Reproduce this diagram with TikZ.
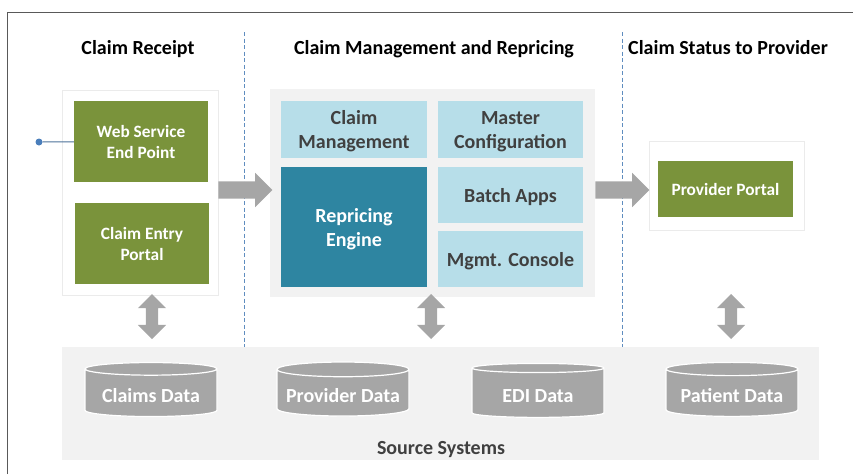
\documentclass[tikz,border=0pt]{standalone}
\usepackage{fontspec}
\setmainfont{Carlito}
\usetikzlibrary{shapes}
\usetikzlibrary{arrows}
\definecolor{c_green}{HTML}{7A933B}
\definecolor{c_teal}{HTML}{2E85A1}
\definecolor{c_light}{HTML}{B7DEE9}
\definecolor{c_panel}{HTML}{F2F2F2}
\definecolor{c_arrow}{HTML}{A6A6A6}
\definecolor{c_text}{HTML}{404040}
\definecolor{c_dash}{HTML}{5F8DBF}
\definecolor{c_dot}{HTML}{4A7EBB}
\newcommand{\topgap}{\rule{0pt}{18pt}}
\tikzset{
	basenode/.style = {
		align=center,
		inner sep=0pt,
		text centered,
		font=\bfseries
	},
	node_title/.style = {
		basenode,
		black,
		font=\fontsize{20}{23}\selectfont\bfseries
	},
	node_panel/.style = {
		basenode,
		rectangle,
		draw=black!8,
		fill=white,
		line width=0.8pt
	},
	node_green/.style = {
		basenode,
		rectangle,
		white,
		fill=c_green,
		font=\fontsize{17.3}{21}\selectfont\bfseries,
		minimum width=134pt,
		minimum height=81pt
	},
	node_light/.style = {
		basenode,
		rectangle,
		c_text,
		fill=c_light,
		font=\fontsize{20}{24}\selectfont\bfseries,
		minimum width=146pt,
		minimum height=57pt
	},
	node_arrow/.style = {
		single arrow,
		fill=c_arrow,
		inner sep=8.5pt,
		single arrow head extend=8.5pt,
		minimum height=54pt
	},
	node_updown/.style = {
		double arrow,
		shape border rotate=90,
		fill=c_arrow,
		inner sep=6pt,
		double arrow head extend=8pt,
		minimum height=45pt
	},
	node_data/.style = {
		basenode,
		cylinder,
		shape border rotate=90,
		shape aspect=0.129,
		white,
		draw=white,
		fill=c_arrow,
		line width=1.2pt,
		font=\fontsize{20}{22}\selectfont\bfseries,
		minimum height=54pt,
		minimum width=132pt
	},
	divider/.style = {
		c_dash,
		dash pattern=on 4pt off 2.5pt,
		line width=0.9pt
	},
}
\begin{document}
\begin{tikzpicture}[x=1pt,y=-1pt]
\useasboundingbox (0,0) rectangle (853,474);
% outer frame
\coordinate (frame_a) at (7,474);
\coordinate (frame_b) at (7,12.5);
\coordinate (frame_c) at (853,12.5);
\draw [black!65, line width=1pt] (frame_a) -- (frame_b) -- (frame_c);

% source systems
\node [basenode, fill=c_panel, minimum width=757pt, minimum height=113pt] (source) at (440.5,403.5) {};
\node [basenode, c_text, font=\fontsize{20}{23}\selectfont\bfseries] (source_label) at (441,450) {Source Systems};

% dashed dividers
\coordinate (div_a_top) at (244,32);
\coordinate (div_a_bot) at (244,347);
\coordinate (div_b_top) at (622,32);
\coordinate (div_b_bot) at (622,347);
\draw [divider] (div_a_top) -- (div_a_bot);
\draw [divider] (div_b_top) -- (div_b_bot);

% titles
\node [node_title] (title_receipt) at (138,49) {Claim Receipt};
\node [node_title] (title_mgmt) at (434,49) {Claim Management and Repricing};
\node [node_title] (title_status) at (728,47.5) {Claim Status to Provider};

% panels
\node [node_panel, minimum width=156pt, minimum height=205pt] (panel_receipt) at (140,192.5) {};
\node [node_panel, draw=none, fill=c_panel, minimum width=325pt, minimum height=208pt] (panel_mgmt) at (432.5,193) {};
\node [node_panel, minimum width=155pt, minimum height=89pt] (panel_status) at (726.5,185.5) {};

% receipt boxes
\node [node_green] (web) at (141,141.5) {Web Service\\End Point};
\node [node_green] (entry) at (142,243.5) {Claim Entry\\Portal};
\node [basenode, circle, fill=c_dot, minimum size=7pt] (dot) at (39,142) {};
\draw [c_dash!80!black, line width=1pt] (dot) -- (web);

% management boxes
\node [node_light] (claim) at (354,129.5) {\topgap Claim\\Management};
\node [node_light, minimum width=145pt] (master) at (510.5,129.5) {\topgap Master\\Configuration};
\node [node_light, white, fill=c_teal, minimum height=120pt] (engine) at (354,227) {\topgap Repricing\\Engine};
\node [node_light, minimum width=145pt, minimum height=56pt] (batch) at (510.5,195) {\topgap Batch Apps};
\node [node_light, minimum width=145pt, minimum height=56pt] (console) at (510.5,259) {\topgap Mgmt. Console};

% status box
\node [node_green, minimum width=135pt, minimum height=56pt] (portal) at (725.5,189) {Provider Portal};

% block arrows
\node [node_arrow] (flow_a) at (241,190) {};
\node [node_arrow] (flow_b) at (618,190) {};
\node [node_updown] (sync_a) at (152,316.5) {};
\node [node_updown] (sync_b) at (431,316.5) {};
\node [node_updown] (sync_c) at (731,316.5) {};

% data stores
\node [node_data] (claims_data) at (151,393) {\rule{0pt}{20pt}Claims Data};
\node [node_data] (provider_data) at (343,393) {\rule{0pt}{20pt}Provider Data};
\node [node_data] (edi_data) at (538,393) {\rule{0pt}{20pt}EDI Data};
\node [node_data] (patient_data) at (732,393) {\rule{0pt}{20pt}Patient Data};
\end{tikzpicture}
\end{document}
